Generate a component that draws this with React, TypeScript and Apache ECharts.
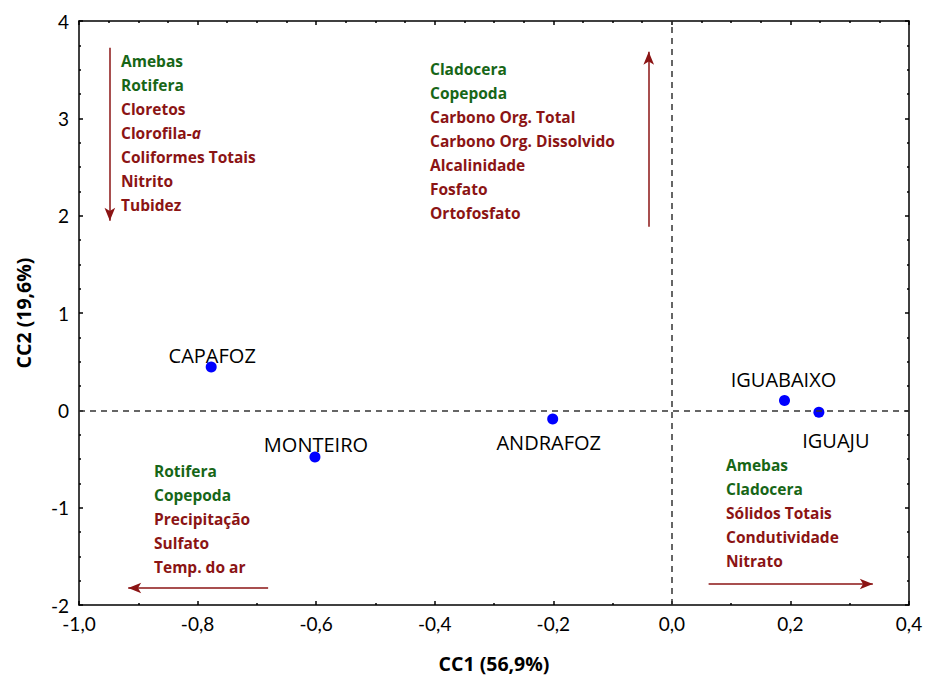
import React, { useEffect, useRef } from "react";
import * as echarts from "echarts";

// Sites and their canonical scores
const sites = ["CAPAFOZ", "MONTEIRO", "ANDRAFOZ", "IGUABAIXO", "IGUAJU"];
const cc1 = [-0.777, -0.602, -0.201, 0.19, 0.248];
const cc2 = [0.446, -0.479, -0.088, 0.1, -0.02];

// Axis ticks
const xTicks = { min: -1.0, max: 0.4, interval: 0.2 };
const yTicks = { min: -2, max: 4, interval: 1 };

// Variable groups along each axis direction: [kind, text]; g = biota, r = environment
const groupUp: [string, string][] = [
  ["g", "Cladocera"],
  ["g", "Copepoda"],
  ["r", "Carbono Org. Total"],
  ["r", "Carbono Org. Dissolvido"],
  ["r", "Alcalinidade"],
  ["r", "Fosfato"],
  ["r", "Ortofosfato"],
];
const groupDown: [string, string][] = [
  ["g", "Amebas"],
  ["g", "Rotifera"],
  ["r", "Cloretos"],
  ["ra", "Clorofila-"],
  ["r", "Coliformes Totais"],
  ["r", "Nitrito"],
  ["r", "Tubidez"],
];
const groupLeft: [string, string][] = [
  ["g", "Rotifera"],
  ["g", "Copepoda"],
  ["r", "Precipitação"],
  ["r", "Sulfato"],
  ["r", "Temp. do ar"],
];
const groupRight: [string, string][] = [
  ["g", "Amebas"],
  ["g", "Cladocera"],
  ["r", "Sólidos Totais"],
  ["r", "Condutividade"],
  ["r", "Nitrato"],
];

// Direction arrows in CC1/CC2 units: [from, to]
const arrowDown = [[-0.948, 3.725], [-0.948, 1.947]];
const arrowUp = [[-0.039, 1.885], [-0.039, 3.683]];
const arrowLeft = [[-0.681, -1.825], [-0.917, -1.825]];
const arrowRight = [[0.062, -1.784], [0.339, -1.784]];

// Label offsets relative to each site marker
const labelOffsets = [
  [1, -11],
  [1, -12],
  [-4, 24],
  [-1, -21],
  [17, 28],
];

const GREEN = "#176617";
const RED = "#8b1414";
const TEXT_FONT = "Open Sans";
const NUM_FONT = "Lato";

const toRich = (rows: [string, string][]) =>
  rows
    .map(([k, t]) => (k === "ra" ? `{r|${t}}{ri|a}` : `{${k}|${t}}`))
    .join("\n");

const base = { fontFamily: TEXT_FONT, fontWeight: "bold", fontSize: 15.5, lineHeight: 24 };
const richStyles = {
  g: { ...base, fill: GREEN },
  r: { ...base, fill: RED },
  ri: { ...base, fill: RED, fontStyle: "italic" },
};

const block = (rows: [string, string][], x: number, y: number) => ({
  type: "text",
  x,
  y,
  silent: true,
  style: {
    text: toRich(rows),
    rich: richStyles,
    verticalAlign: "top",
    align: "left",
  },
});

const comma = (v: number, d: number) => v.toFixed(d).replace(".", ",");

export default function App() {
  const ref = useRef<HTMLDivElement>(null);

  useEffect(() => {
    document.body.style.margin = "0";
    if (!ref.current) return;
    const chart = echarts.init(ref.current, undefined, { renderer: "svg" });

    const axisCommon = {
      axisLine: { show: true, onZero: false, lineStyle: { color: "#000", width: 1.5 } },
      axisTick: { show: true, inside: true, length: 4, lineStyle: { color: "#000", width: 1.5 } },
      minorTick: { show: true, length: 2, lineStyle: { color: "#000", width: 1.5 } },
      splitLine: { show: false },
    };
    const nameStyle = {
      fontFamily: TEXT_FONT,
      fontWeight: "bold",
      fontSize: 19.5,
      color: "#000",
    };

    const arrowPair = (a: number[][]) => [{ coord: a[0] }, { coord: a[1] }];

    chart.setOption({
      animation: false,
      backgroundColor: "#fff",
      grid: { left: 79, right: 18, top: 21, bottom: 77 },
      xAxis: [
        {
          type: "value",
          position: "bottom",
          ...xTicks,
          ...axisCommon,
          minorTick: { ...axisCommon.minorTick, splitNumber: 2 },
          name: "CC1 (56,9%)",
          nameLocation: "middle",
          nameGap: 48,
          nameTextStyle: nameStyle,
          axisLabel: {
            fontFamily: NUM_FONT,
            fontSize: 19,
            color: "#000",
            margin: 9,
            formatter: (v: number) => comma(v, 1),
          },
        },
        {
          type: "value",
          position: "top",
          ...xTicks,
          ...axisCommon,
          minorTick: { ...axisCommon.minorTick, splitNumber: 4 },
          axisLabel: { show: false },
        },
      ],
      yAxis: [
        {
          type: "value",
          position: "left",
          ...yTicks,
          ...axisCommon,
          minorTick: { ...axisCommon.minorTick, splitNumber: 4 },
          name: "CC2 (19,6%)",
          nameLocation: "middle",
          nameGap: 46,
          nameTextStyle: nameStyle,
          axisLabel: {
            fontFamily: NUM_FONT,
            fontSize: 19,
            color: "#000",
            margin: 10,
            formatter: (v: number) => String(v),
          },
        },
        {
          type: "value",
          position: "right",
          ...yTicks,
          ...axisCommon,
          minorTick: { ...axisCommon.minorTick, splitNumber: 4 },
          axisLabel: { show: false },
        },
      ],
      series: [
        {
          type: "scatter",
          symbolSize: 11,
          itemStyle: { color: "#0000ff", opacity: 1 },
          data: sites.map((name, i) => ({
            name,
            value: [cc1[i], cc2[i]],
            label: {
              show: true,
              position: "inside",
              offset: labelOffsets[i],
              formatter: name,
              fontFamily: TEXT_FONT,
              fontSize: 20,
              color: "#000",
            },
          })),
          markLine: {
            silent: true,
            symbol: "none",
            label: { show: false },
            lineStyle: { color: "#333", width: 1.5, type: [6, 5] },
            data: [{ xAxis: 0 }, { yAxis: 0 }],
          },
          z: 3,
        },
        {
          type: "scatter",
          data: [],
          markLine: {
            silent: true,
            symbol: ["none", "arrow"],
            symbolSize: [8, 13],
            label: { show: false },
            lineStyle: { color: RED, width: 1.5, type: "solid" },
            data: [
              arrowPair(arrowDown),
              arrowPair(arrowUp),
              arrowPair(arrowLeft),
              arrowPair(arrowRight),
            ],
          },
        },
      ],
      graphic: [
        block(groupDown, 121, 49),
        block(groupUp, 430, 57),
        block(groupLeft, 154, 459),
        block(groupRight, 726, 453),
      ],
    });

    return () => chart.dispose();
  }, []);

  return <div ref={ref} style={{ width: 927, height: 682 }} />;
}
